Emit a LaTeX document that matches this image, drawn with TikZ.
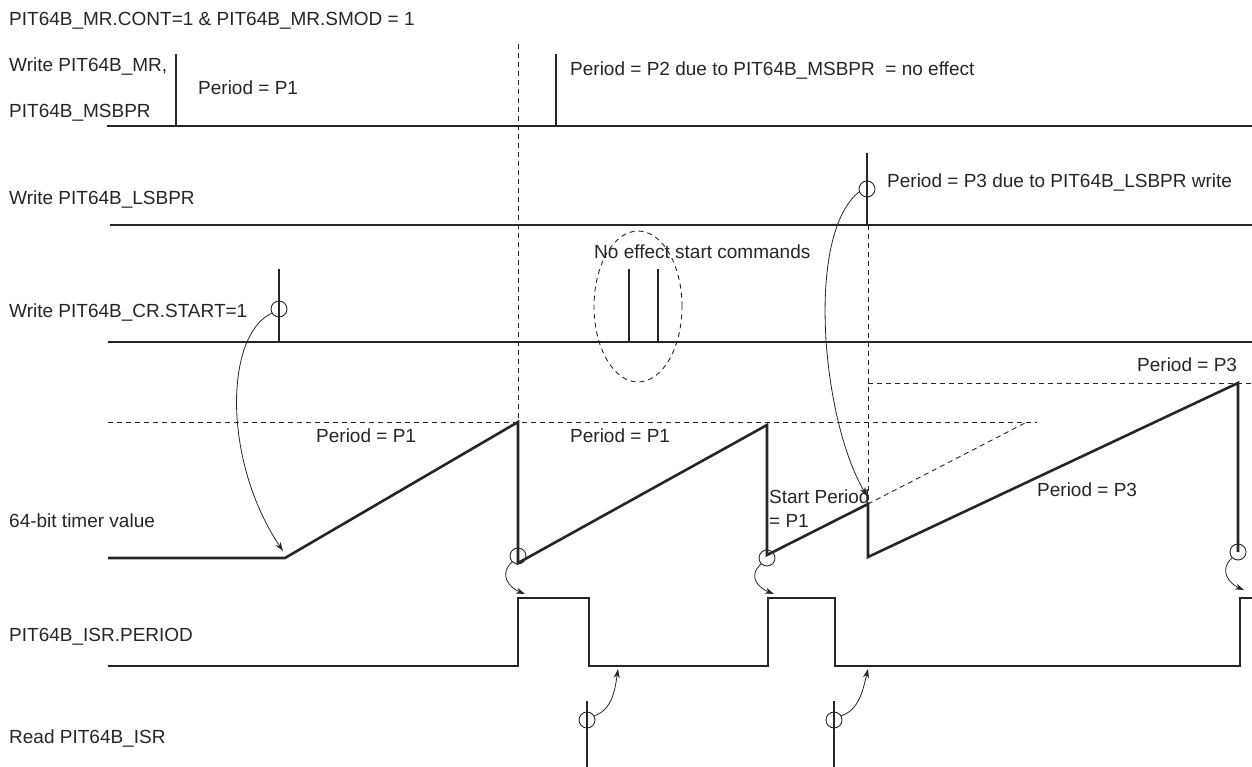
\documentclass[tikz,border=0pt]{standalone}
\usepackage{fontspec}
\setmainfont{Liberation Sans}
\usetikzlibrary{arrows.meta}
\begin{document}
\begin{tikzpicture}[x=1pt,y=-1pt,
  lbl/.style={anchor=west,inner sep=0pt,font=\fontsize{19}{21}\selectfont,text=black!85},
  sig/.style={line width=2.6pt,line join=miter,draw=black!85},
  dsh/.style={line width=0.9pt,dash pattern=on 5pt off 4pt,draw=black!85},
  ring/.style={circle,draw=black!85,line width=0.9pt,minimum size=16pt,inner sep=0pt},
  arr/.style={line width=0.8pt,draw=black!85,-{Stealth[length=9pt,width=6pt]}}]
\useasboundingbox (0,0) rectangle (1252,767);

% labels
\node[lbl] (title) at (9,21) {PIT64B\_MR.CONT=1 \& PIT64B\_MR.SMOD = 1};
\node[lbl] (mr1) at (9,67) {Write PIT64B\_MR,};
\node[lbl] (mr2) at (9,113) {PIT64B\_MSBPR};
\node[lbl] (p1a) at (198,88) {Period = P1};
\node[lbl] (p2) at (570,71) {Period = P2 due to PIT64B\_MSBPR\ \ = no effect};
\node[lbl] (lsb) at (9,200) {Write PIT64B\_LSBPR};
\node[lbl] (p3txt) at (887,183) {Period = P3 due to PIT64B\_LSBPR write};
\node[lbl] (start) at (9,313) {Write PIT64B\_CR.START=1};
\node[lbl] (noeff) at (594,252) {No effect start commands};
\node[lbl] (tv) at (9,521) {64-bit timer value};
\node[lbl] (pa) at (316,436) {Period = P1};
\node[lbl] (pb) at (570,436) {Period = P1};
\node[lbl] (sp1) at (769,497) {Start Period};
\node[lbl] (sp2) at (769,521) {= P1};
\node[lbl] (pc) at (1037,490) {Period = P3};
\node[lbl] (pd) at (1137,365) {Period = P3};
\node[lbl] (isr) at (9,637) {PIT64B\_ISR.PERIOD};
\node[lbl] (rd) at (9,738) {Read PIT64B\_ISR};

% dashed guides
\draw[dsh] (518,44) -- (518,422);
\draw[dsh] (108,422) -- (1037,422);
\draw[dsh] (868,225) -- (868,504);
\draw[dsh] (868,504) -- (1027,422);
\draw[dsh] (868,383) -- (1252,383);
\draw[dsh] (638,306.5) ellipse [x radius=44pt, y radius=75.5pt];

% row 1
\draw[sig] (107,126) -- (1252,126);
\draw[sig] (176,54) -- (176,126);
\draw[sig] (556,54) -- (556,126);
% row 2
\draw[sig] (110,225) -- (1252,225);
\draw[sig] (867,153) -- (867,225);
% row 3
\draw[sig] (108,342) -- (1252,342);
\draw[sig] (279,269) -- (279,342);
\draw[sig] (629,269) -- (629,342);
\draw[sig] (658,269) -- (658,342);
% timer
\draw[sig] (108,558) -- (285,558) -- (518,422) -- (518,563) -- (767,425) -- (767,555)
  -- (868,504) -- (868,557) -- (1238,383) -- (1238,552);
% ISR
\draw[sig] (108,666) -- (518,666) -- (518,598) -- (589,598) -- (589,666) -- (768,666)
  -- (768,598) -- (835,598) -- (835,666) -- (1240,666) -- (1240,598) -- (1252,598);
% read
\draw[sig] (587,701) -- (587,767);
\draw[sig] (834,701) -- (834,767);

% rings
\node[ring] (c1) at (279,309) {};
\node[ring] (c2) at (867,189) {};
\node[ring] (c3) at (518,556) {};
\node[ring] (c4) at (767,558) {};
\node[ring] (c5) at (1238,552) {};
\node[ring] (c6) at (587,720) {};
\node[ring] (c7) at (834,720) {};

% arrow targets
\coordinate (a1) at (283,551);
\coordinate (a2) at (867,496);
\coordinate (a3) at (525,594);
\coordinate (a4) at (774,594);
\coordinate (a5) at (1244,590);
\coordinate (a6) at (618,669);
\coordinate (a7) at (868,669);

\draw[arr] (c1.210) .. controls (225,335) and (222,460) .. (a1);
\draw[arr] (c2.200) .. controls (805,235) and (822,420) .. (a2);
\draw[arr] (c3.225) .. controls (498,575) and (510,588) .. (a3);
\draw[arr] (c4.225) .. controls (747,577) and (759,588) .. (a4);
\draw[arr] (c5.225) .. controls (1218,571) and (1230,584) .. (a5);
\draw[arr] (c6.30) .. controls (612,710) and (615,690) .. (a6);
\draw[arr] (c7.30) .. controls (859,710) and (863,690) .. (a7);
\end{tikzpicture}
\end{document}
